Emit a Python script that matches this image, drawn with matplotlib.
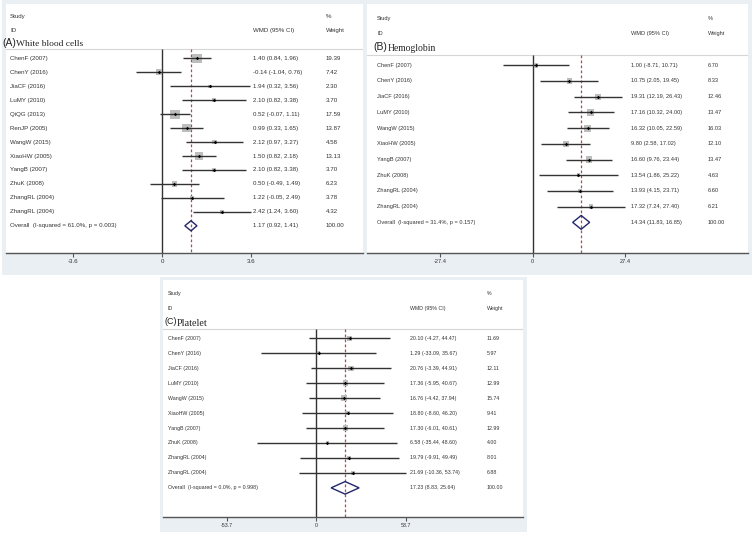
import numpy as np
import matplotlib.pyplot as plt
from matplotlib.patches import Rectangle, Polygon

W, H = 754, 538

# (A) White blood cells
wbc_studies = ["ChenF (2007)", "ChenY (2016)", "JiaCF (2016)", "LuMY (2010)", "QiQG (2013)",
               "RenJP (2005)", "WangW (2015)", "XiaoHW (2005)", "YangB (2007)", "ZhuK (2008)",
               "ZhangRL (2004)", "ZhangRL (2004)"]
wbc_wmd = [1.40, -0.14, 1.94, 2.10, 0.52, 0.99, 2.12, 1.50, 2.10, 0.50, 1.22, 2.42]
wbc_lo = [0.84, -1.04, 0.32, 0.82, -0.07, 0.33, 0.97, 0.82, 0.82, -0.49, -0.05, 1.24]
wbc_hi = [1.96, 0.76, 3.56, 3.38, 1.11, 1.65, 3.27, 2.18, 3.38, 1.49, 2.49, 3.60]
wbc_weight = [19.39, 7.42, 2.30, 3.70, 17.59, 13.87, 4.58, 13.13, 3.70, 6.23, 3.78, 4.32]
wbc_overall = [1.17, 0.92, 1.41]
wbc_het = "Overall  (I-squared = 61.0%, p = 0.003)"
wbc_ticks = [-3.6, 0, 3.6]

# (B) Hemoglobin
hb_studies = ["ChenF (2007)", "ChenY (2016)", "JiaCF (2016)", "LuMY (2010)", "WangW (2015)",
              "XiaoHW (2005)", "YangB (2007)", "ZhuK (2008)", "ZhangRL (2004)", "ZhangRL (2004)"]
hb_wmd = [1.00, 10.75, 19.31, 17.16, 16.32, 9.80, 16.60, 13.54, 13.93, 17.32]
hb_lo = [-8.71, 2.05, 12.19, 10.32, 10.05, 2.58, 9.76, 1.86, 4.15, 7.24]
hb_hi = [10.71, 19.45, 26.43, 24.00, 22.59, 17.02, 23.44, 25.22, 23.71, 27.40]
hb_weight = [6.70, 8.33, 12.46, 13.47, 16.03, 12.10, 13.47, 4.63, 6.60, 6.21]
hb_overall = [14.34, 11.83, 16.85]
hb_het = "Overall  (I-squared = 31.4%, p = 0.157)"
hb_ticks = [-27.4, 0, 27.4]

# (C) Platelet
plt_studies = ["ChenF (2007)", "ChenY (2016)", "JiaCF (2016)", "LuMY (2010)", "WangW (2015)",
               "XiaoHW (2005)", "YangB (2007)", "ZhuK (2008)", "ZhangRL (2004)", "ZhangRL (2004)"]
plt_wmd = [20.10, 1.29, 20.76, 17.36, 16.76, 18.80, 17.30, 6.58, 19.79, 21.69]
plt_lo = [-4.27, -33.09, -3.39, -5.95, -4.42, -8.60, -6.01, -35.44, -9.91, -10.36]
plt_hi = [44.47, 35.67, 44.91, 40.67, 37.94, 46.20, 40.61, 48.60, 49.49, 53.74]
plt_weight = [11.69, 5.97, 12.11, 12.99, 15.74, 9.41, 12.99, 4.00, 8.01, 6.88]
plt_overall = [17.23, 8.83, 25.64]
plt_het = "Overall  (I-squared = 0.0%, p = 0.998)"
plt_ticks = [-53.7, 0, 53.7]

SANS = "Liberation Sans"
SERIF = "Liberation Serif"
TXT = "#333333"
BG = "#e9eff2"


def px_rect(x0, y0, x1, y1):
    return [x0 / W, 1 - y1 / H, (x1 - x0) / W, (y1 - y0) / H]


def fmt_tick(v):
    return "0" if v == 0 else f"{v:.1f}"


def draw_panel(fig, box, zero_px, ppu, cols, fs, box_k, dh,
               studies, wmd, lo, hi, weight, overall, het, ticks):
    x0, y0, x1, y1 = box
    ax = fig.add_axes(px_rect(x0, y0, x1, y1))
    ax.set_facecolor("white")
    n = len(studies)
    ybot = n + 1.95
    ax.set_xlim((x0 - zero_px) / ppu, (x1 - zero_px) / ppu)
    ax.set_ylim(ybot, -3.9)
    rows = np.arange(n)

    # header separator, null line and overall line
    ax.axhline(-0.65, color="#d6d6d6", lw=0.8)
    ax.vlines(0, -0.65, ybot, color="#333333", lw=1.0)
    ax.vlines(overall[0], -0.65, ybot, color="#b5484b", lw=0.9,
              linestyles=(0, (2.2, 1.8)))

    side = box_k * np.sqrt(np.array(weight)) * 72 / 100
    ax.scatter(wmd, rows, s=side ** 2, marker="s", color="#bdbdbd", lw=0, zorder=2)
    ax.hlines(rows, lo, hi, color="#333333", lw=1.0, zorder=3)
    ax.scatter(wmd, rows, s=3, marker="D", color="black", lw=0, zorder=4)

    ov, olo, ohi = overall
    dia = Polygon([(olo, n), (ov, n - dh), (ohi, n), (ov, n + dh)], closed=True,
                  facecolor="none", edgecolor="#23266b", lw=1.0, zorder=5)
    ax.add_patch(dia)

    # text columns
    tr = ax.get_yaxis_transform()
    cx = [(c - x0) / (x1 - x0) for c in cols]
    kw = dict(transform=tr, fontsize=fs, color=TXT, va="center", family=SANS)
    ax.text(cx[0], -3, "Study", **kw)
    ax.text(cx[0], -2, "ID", **kw)
    ax.text(cx[2], -3, "%", **kw)
    ax.text(cx[1], -2, "WMD (95% CI)", **kw)
    ax.text(cx[2], -2, "Weight", **kw)
    for i, s in enumerate(studies):
        ax.text(cx[0], i, s, **kw)
        ax.text(cx[1], i, f"{wmd[i]:.2f} ({lo[i]:.2f}, {hi[i]:.2f})", **kw)
        ax.text(cx[2], i, f"{weight[i]:.2f}", **kw)
    ax.text(cx[0], n, het, **kw)
    ax.text(cx[1], n, f"{ov:.2f} ({olo:.2f}, {ohi:.2f})", **kw)
    ax.text(cx[2], n, "100.00", **kw)

    for sp in ["top", "left", "right"]:
        ax.spines[sp].set_visible(False)
    ax.spines["bottom"].set_color("#555555")
    ax.spines["bottom"].set_linewidth(1.0)
    ax.set_yticks([])
    ax.set_xticks(ticks)
    ax.set_xticklabels([fmt_tick(t) for t in ticks], fontsize=fs, color=TXT, family=SANS)
    ax.tick_params(axis="x", length=3, width=0.8, color="#555555", pad=1.5)
    return ax


def main():
    fig = plt.figure(figsize=(W / 100, H / 100), dpi=100)
    fig.patch.set_facecolor("white")

    # grey panel backgrounds, kept behind the axes
    for r in [(2, 0, 752, 275), (160, 277, 527, 532)]:
        fig.patches.append(Rectangle((r[0] / W, 1 - r[3] / H), (r[2] - r[0]) / W,
                                     (r[3] - r[1]) / H, transform=fig.transFigure,
                                     facecolor=BG, edgecolor="none", zorder=-5))

    draw_panel(fig, (6, 4, 363, 253), 162, 24.8, (10, 253, 326), 4.4, 2.2, 0.36,
               wbc_studies, wbc_wmd, wbc_lo, wbc_hi, wbc_weight, wbc_overall, wbc_het, wbc_ticks)
    draw_panel(fig, (367, 4, 748, 253), 532.7, 3.38, (377, 631, 708), 4.1, 1.75, 0.44,
               hb_studies, hb_wmd, hb_lo, hb_hi, hb_weight, hb_overall, hb_het, hb_ticks)
    draw_panel(fig, (163, 280, 523, 517), 316.4, 1.666, (168, 410, 487), 3.8, 1.5, 0.42,
               plt_studies, plt_wmd, plt_lo, plt_hi, plt_weight, plt_overall, plt_het, plt_ticks)

    # panel titles
    labels = [((2.5, 42.5), "(A)", 7.4, (16.5, 44.5), "White blood cells", 6.8),
              ((373, 46.5), "(B)", 7.4, (387.5, 48.5), "Hemoglobin", 6.9),
              ((164.5, 321.5), "(C)", 6.5, (177, 323.5), "Platelet", 7.3)]
    for (lx, ly), tag, lfs, (tx, ty), title, tfs in labels:
        fig.text(lx / W, 1 - ly / H, tag, fontsize=lfs, family=SANS, color="#222222",
                 va="center", ha="left")
        fig.text(tx / W, 1 - ty / H, title, fontsize=tfs, family=SERIF, color="#222222",
                 va="center", ha="left")

    fig.savefig("out.png", dpi=100, facecolor=fig.get_facecolor())


if __name__ == "__main__":
    main()
